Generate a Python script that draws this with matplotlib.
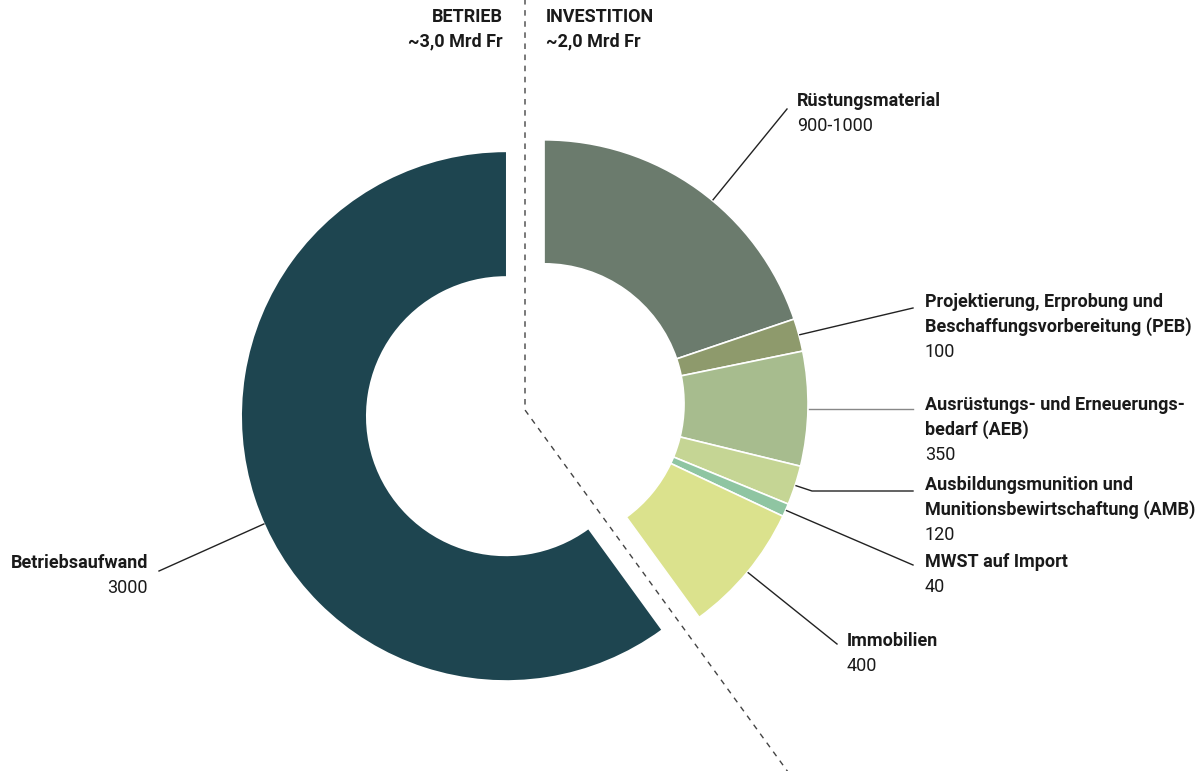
import numpy as np
import matplotlib
matplotlib.use("Agg")
import matplotlib.pyplot as plt
from matplotlib import font_manager

# ---------------- data ----------------
inv_labels = ["Rüstungsmaterial",
              "Projektierung, Erprobung und\nBeschaffungsvorbereitung (PEB)",
              "Ausrüstungs- und Erneuerungs-\nbedarf (AEB)",
              "Ausbildungsmunition und\nMunitionsbewirtschaftung (AMB)",
              "MWST auf Import",
              "Immobilien"]
inv_values = [990, 100, 350, 120, 40, 400]
inv_value_text = ["900-1000", "100", "350", "120", "40", "400"]
inv_colors = ["#6b7b6d", "#8e9a6c", "#a7bc8e", "#c5d594", "#8fc5a2", "#dbe28d"]

op_label = "Betriebsaufwand"
op_value = 3000
op_value_text = "3000"
op_color = "#1e4550"

header_left = "BETRIEB\n~3,0 Mrd Fr"
header_right = "INVESTITION\n~2,0 Mrd Fr"

# ---------------- font ----------------
avail = {f.name for f in font_manager.fontManager.ttflist}
fam = [f for f in ["Liberation Sans Narrow", "Roboto", "DejaVu Sans"] if f in avail]
plt.rcParams["font.family"] = fam

W, H = 1199, 771
fig = plt.figure(figsize=(W / 100, H / 100), dpi=100)
ax = fig.add_axes([0, 0, 1, 1])

def Y(py):
    return H - py

total = sum(inv_values) + op_value
inv_total = sum(inv_values)
R = 264
WIDTH = 124
EXPLODE = 20
cx, cy = 525, Y(410)

# group bisectors (math angle, degrees)
inv_span = 360 * inv_total / total
inv_mid = np.deg2rad(90 - inv_span / 2)
op_mid = inv_mid + np.pi
inv_c = (cx + EXPLODE * np.cos(inv_mid), cy + EXPLODE * np.sin(inv_mid))
op_c = (cx + EXPLODE * np.cos(op_mid), cy + EXPLODE * np.sin(op_mid))

vals = inv_values + [op_value]
w1, _ = ax.pie(vals, colors=inv_colors + ["none"], startangle=90, counterclock=False,
               radius=R, center=inv_c, wedgeprops=dict(width=WIDTH, edgecolor="white", linewidth=1.2))
w1[-1].set_edgecolor("none")
w2, _ = ax.pie(vals, colors=["none"] * len(inv_values) + [op_color], startangle=90, counterclock=False,
               radius=R, center=op_c, wedgeprops=dict(width=WIDTH, edgecolor="none", linewidth=0))

# dashed divider
bound = np.deg2rad(90 - inv_span)
L = 500
ax.plot([cx, cx, cx + L * np.cos(bound)], [H + 5, cy, cy + L * np.sin(bound)],
        color="#444444", lw=1, dashes=(4, 4), zorder=1)

# headers
tc = "#1a1a1a"
fs = 13
ax.text(503, Y(8), header_left, ha="right", va="top", fontsize=fs, fontweight="bold",
        color=tc, linespacing=1.45)
ax.text(546, Y(8), header_right, ha="left", va="top", fontsize=fs, fontweight="bold",
        color=tc, linespacing=1.45)

# label layout (text anchor in pixels, leader end point, angle offset, elbow)
lab_pos = [(797, 101), (925, 302), (925, 405), (925, 485), (925, 562), (847, 641)]
lead_end = [(787, 109), (913, 308), (913, None), (913, 491), (913, 565), (837, 644)]
ang_off = [4, 0, 0, 0, 0, 0]
elbow = [None, None, None, (812, 491), None, None]
lead_col = ["#222222", "#222222", "#888888", "#222222", "#222222", "#222222"]

cum = 0
step = 25
for i, v in enumerate(inv_values):
    mid = 90 - 360 * (cum + v / 2) / total
    cum += v
    a = np.deg2rad(mid - ang_off[i])
    sx, sy = inv_c[0] + (R + 1) * np.cos(a), inv_c[1] + (R + 1) * np.sin(a)
    ex, ey = lead_end[i]
    ey = sy if ey is None else Y(ey)
    xs, ys = [sx], [sy]
    if elbow[i] is not None:
        xs.append(elbow[i][0]); ys.append(Y(elbow[i][1]))
    xs.append(ex); ys.append(ey)
    ax.plot(xs, ys, color=lead_col[i], lw=1, zorder=3)
    tx, ty = lab_pos[i]
    nlines = inv_labels[i].count("\n") + 1
    for j, line in enumerate(inv_labels[i].split("\n")):
        ax.text(tx, Y(ty + j * step), line, ha="left", va="center", fontsize=fs,
                fontweight="bold", color=tc)
    ax.text(tx, Y(ty + nlines * step), inv_value_text[i], ha="left", va="center",
            fontsize=fs, color=tc)

# operating label
a = op_mid + np.deg2rad(6)
sx, sy = op_c[0] + (R + 1) * np.cos(a), op_c[1] + (R + 1) * np.sin(a)
ax.plot([sx, 159], [sy, Y(571)], color="#222222", lw=1, zorder=3)
ax.text(148, Y(563), op_label, ha="right", va="center", fontsize=fs, fontweight="bold", color=tc)
ax.text(148, Y(588), op_value_text, ha="right", va="center", fontsize=fs, color=tc)

ax.set_xlim(0, W)
ax.set_ylim(0, H)
ax.set_aspect("equal")
ax.axis("off")
fig.savefig("out.png", dpi=100, facecolor="white")
